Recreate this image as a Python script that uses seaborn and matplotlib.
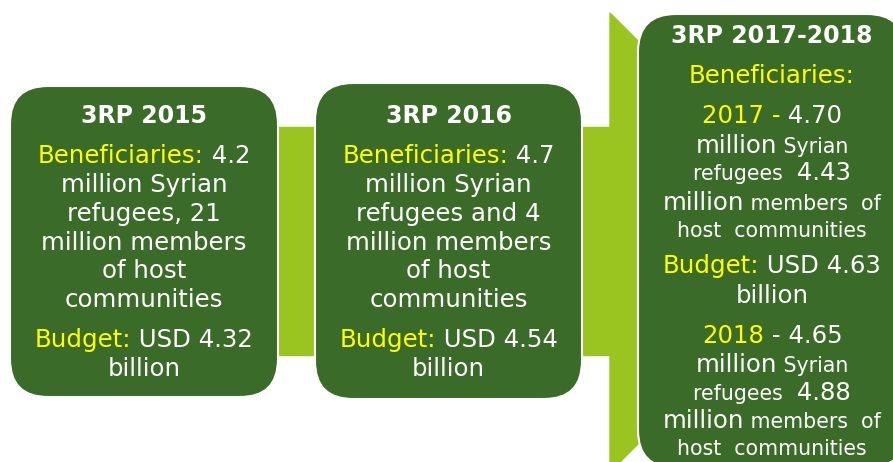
import matplotlib
matplotlib.use("Agg")
import matplotlib.pyplot as plt
import seaborn as sns
from matplotlib.patches import FancyBboxPatch, Polygon, Rectangle

# ---- content -------------------------------------------------------------
plan_titles = ["3RP 2015", "3RP 2016", "3RP 2017-2018"]

# each line: list of (text, colour key, size key)
lines_2015 = [
    [("Beneficiaries:", "y", "L"), (" 4.2", "w", "L")],
    [("million Syrian", "w", "L")],
    [("refugees, 21", "w", "L")],
    [("million members", "w", "L")],
    [("of host", "w", "L")],
    [("communities", "w", "L")],
    [("Budget:", "y", "L"), (" USD 4.32", "w", "L")],
    [("billion", "w", "L")],
]
lines_2016 = [
    [("Beneficiaries:", "y", "L"), (" 4.7", "w", "L")],
    [("million Syrian", "w", "L")],
    [("refugees and 4", "w", "L")],
    [("million members", "w", "L")],
    [("of host", "w", "L")],
    [("communities", "w", "L")],
    [("Budget:", "y", "L"), (" USD 4.54", "w", "L")],
    [("billion", "w", "L")],
]
lines_2017_18 = [
    [("Beneficiaries:", "y", "L")],
    [("2017 -", "y", "L"), (" 4.70", "w", "L")],
    [("million", "w", "L"), (" Syrian", "w", "S")],
    [("refugees ", "w", "S"), (" 4.43", "w", "L")],
    [("million", "w", "L"), (" members  of", "w", "S")],
    [("host  communities", "w", "S")],
    [("Budget:", "y", "L"), (" USD 4.63", "w", "L")],
    [("billion", "w", "L")],
    [("2018", "y", "L"), (" - 4.65", "w", "L")],
    [("million", "w", "L"), (" Syrian", "w", "S")],
    [("refugees ", "w", "S"), (" 4.88", "w", "L")],
    [("million", "w", "L"), (" members  of", "w", "S")],
    [("host  communities", "w", "S")],
]

DARK = "#3B6B28"
LIGHT = "#9AC41F"
COLORS = {"y": "#FFFF00", "w": "white"}
SIZES = {"L": 17.6, "S": 14.8}

sns.set_theme(style="white")
plt.rcParams["font.family"] = ["DejaVu Sans"]

fig = plt.figure(figsize=(8.93, 4.62), dpi=100)
ax = fig.add_axes([0, 0, 1, 1])
ax.set_xlim(0, 893)
ax.set_ylim(462, 0)
ax.axis("off")
renderer = fig.canvas.get_renderer()

# connectors
ax.add_patch(Rectangle((276, 127), 40, 228, color=LIGHT, zorder=1))
ax.add_patch(Rectangle((578, 127), 34, 228, color=LIGHT, zorder=1))
ax.add_patch(Polygon([(610, 13), (640, 43), (640, 442), (610, 472)],
                     closed=True, color=LIGHT, zorder=1))

# boxes
boxes = [(10, 86, 268, 311), (315, 83, 267, 316), (638, 14, 267, 454)]
for x, y, w, h in boxes:
    ax.add_patch(FancyBboxPatch((x, y), w, h,
                                boxstyle="round,pad=0,rounding_size=38",
                                facecolor=DARK, edgecolor="white",
                                linewidth=1.5, zorder=2))


def draw_line(cx, y, segs, weight="normal"):
    texts = []
    for s, col, size in segs:
        t = ax.text(0, y, s, color=COLORS[col], fontsize=SIZES[size],
                    fontweight=weight, ha="left", va="baseline", zorder=3)
        texts.append(t)
    widths = [t.get_window_extent(renderer).width for t in texts]
    x = cx - sum(widths) / 2
    for t, w in zip(texts, widths):
        t.set_x(x)
        x += w


small_titles = [(144, 123), (448.5, 123), (772, 43)]
for (cx, y), title in zip(small_titles, plan_titles):
    ax.text(cx, y, title, color="white", fontsize=17, fontweight="bold",
            ha="center", va="baseline", zorder=3)

base_12 = [163, 192, 221, 250, 278, 307, 347, 376]
for segs, y in zip(lines_2015, base_12):
    draw_line(144, y, segs)
for segs, y in zip(lines_2016, base_12):
    draw_line(448.5, y, segs)

base_3 = [83, 123, 153, 180, 210, 237, 273, 303, 343, 372, 400, 428, 455]
for segs, y in zip(lines_2017_18, base_3):
    draw_line(772, y, segs)

fig.savefig("out.png", dpi=100, facecolor="white")
